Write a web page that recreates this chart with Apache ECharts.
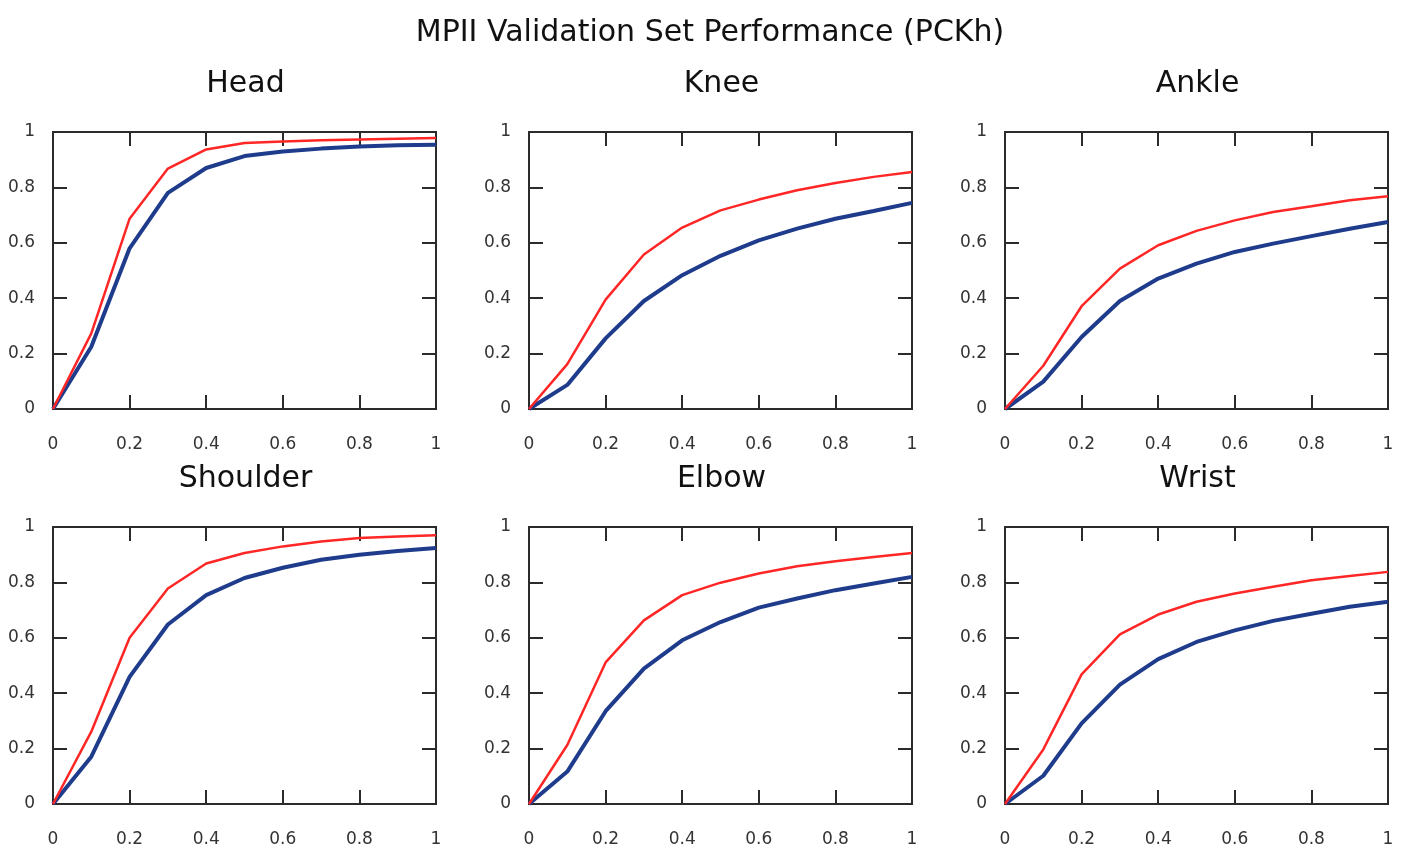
<!DOCTYPE html>
<html>
<head>
<meta charset="utf-8">
<script src="https://cdn.jsdelivr.net/npm/echarts@6/dist/echarts.min.js"></script>
<style>
  html, body { margin: 0; padding: 0; background: #fff; }
  #main { width: 1420px; height: 852px; }
</style>
</head>
<body>
<div id="main"></div>
<script>
// threshold values (normalized distance)
const thresholds = [0, 0.1, 0.2, 0.3, 0.4, 0.5, 0.6, 0.7, 0.8, 0.9, 1.0];
const jointNames = ['Head', 'Knee', 'Ankle', 'Shoulder', 'Elbow', 'Wrist'];

// red curves
const headRed     = [0, 0.273, 0.687, 0.868, 0.937, 0.960, 0.966, 0.970, 0.973, 0.976, 0.978];
const kneeRed     = [0, 0.162, 0.395, 0.558, 0.655, 0.717, 0.756, 0.790, 0.816, 0.838, 0.856];
const ankleRed    = [0, 0.156, 0.371, 0.507, 0.591, 0.643, 0.681, 0.711, 0.732, 0.754, 0.768];
const shoulderRed = [0, 0.261, 0.600, 0.778, 0.868, 0.906, 0.930, 0.948, 0.960, 0.966, 0.970];
const elbowRed    = [0, 0.213, 0.511, 0.663, 0.754, 0.799, 0.832, 0.858, 0.876, 0.892, 0.906];
const wristRed    = [0, 0.197, 0.468, 0.612, 0.684, 0.730, 0.760, 0.784, 0.808, 0.823, 0.838];

// blue curves
const headBlue     = [0, 0.225, 0.580, 0.780, 0.870, 0.913, 0.930, 0.940, 0.948, 0.952, 0.954];
const kneeBlue     = [0, 0.087, 0.255, 0.390, 0.483, 0.553, 0.609, 0.651, 0.687, 0.715, 0.744];
const ankleBlue    = [0, 0.099, 0.260, 0.390, 0.471, 0.525, 0.567, 0.597, 0.624, 0.651, 0.675];
const shoulderBlue = [0, 0.171, 0.459, 0.648, 0.754, 0.816, 0.853, 0.882, 0.900, 0.913, 0.924];
const elbowBlue    = [0, 0.117, 0.335, 0.489, 0.591, 0.657, 0.709, 0.742, 0.772, 0.796, 0.820];
const wristBlue    = [0, 0.102, 0.291, 0.431, 0.523, 0.585, 0.627, 0.661, 0.687, 0.712, 0.730];

const redSets = [headRed, kneeRed, ankleRed, shoulderRed, elbowRed, wristRed];
const blueSets = [headBlue, kneeBlue, ankleBlue, shoulderBlue, elbowBlue, wristBlue];

const font = 'DejaVu Sans';
const lefts = [53, 529, 1005];
const tops = [132, 527];
const W = 383, H = 277;

let grids = [], xAxes = [], yAxes = [], series = [], titles = [];

titles.push({
  text: 'MPII Validation Set Performance (PCKh)',
  left: 'center', top: 13,
  textStyle: { fontFamily: font, fontSize: 30, fontWeight: 'normal', color: '#111' }
});

function pairs(ys) {
  return thresholds.map((x, i) => [x, ys[i]]);
}

jointNames.forEach((name, i) => {
  const left = lefts[i % 3], top = tops[Math.floor(i / 3)];
  grids.push({ left: left, top: top, width: W, height: H, show: true,
    borderColor: '#2b2b2b', borderWidth: 2, backgroundColor: '#fff' });
  titles.push({
    text: name, left: left + W / 2 - 4, top: top - 68, textAlign: 'center',
    textStyle: { fontFamily: font, fontSize: 30, fontWeight: 'normal', color: '#111' }
  });

  const tick = { show: true, inside: true, length: 14, lineStyle: { color: '#2b2b2b', width: 2 } };
  const base = { type: 'value', min: 0, max: 1, interval: 0.2, gridIndex: i,
    splitLine: { show: false }, axisLine: { show: false, onZero: false }, axisTick: tick };
  const lbl = { fontFamily: font, fontSize: 17, color: '#333' };

  xAxes.push(Object.assign({}, base, { position: 'bottom',
    axisLabel: Object.assign({ margin: 27 }, lbl) }));
  xAxes.push(Object.assign({}, base, { position: 'top', axisLabel: { show: false } }));
  yAxes.push(Object.assign({}, base, { position: 'left',
    axisLabel: Object.assign({ margin: 18 }, lbl) }));
  yAxes.push(Object.assign({}, base, { position: 'right', axisLabel: { show: false } }));

  series.push({
    type: 'line', xAxisIndex: 2 * i, yAxisIndex: 2 * i, data: pairs(blueSets[i]),
    showSymbol: false, lineStyle: { color: '#1f3c8c', width: 4 }, z: 3
  });
  series.push({
    type: 'line', xAxisIndex: 2 * i, yAxisIndex: 2 * i, data: pairs(redSets[i]),
    showSymbol: false, lineStyle: { color: '#ff2626', width: 2.5 }, z: 4
  });
});

const chart = echarts.init(document.getElementById('main'));
chart.setOption({
  animation: false,
  backgroundColor: '#fff',
  title: titles,
  grid: grids,
  xAxis: xAxes,
  yAxis: yAxes,
  series: series
});
</script>
</body>
</html>
